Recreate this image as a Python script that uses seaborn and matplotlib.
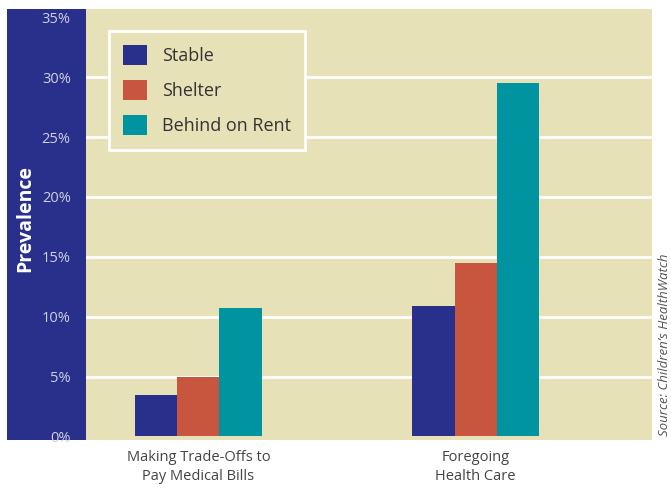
import pandas as pd
import matplotlib
matplotlib.use("Agg")
import matplotlib.pyplot as plt
from matplotlib.patches import Rectangle
import seaborn as sns

# data (percent)
categories = ["Making Trade-Offs to\nPay Medical Bills", "Foregoing\nHealth Care"]
groups = ["Stable", "Shelter", "Behind on Rent"]
stable = [3.5, 10.9]
shelter = [5.0, 14.5]
behind_on_rent = [10.7, 29.5]
y_ticks = [0, 5, 10, 15, 20, 25, 30, 35]
y_tick_labels = [f"{t}%" for t in y_ticks]

BEIGE = "#E6E1B7"
NAVY = "#28308B"
COLORS = ["#28308B", "#C8553E", "#0093A0"]

sns.set_theme(style="white")
plt.rcParams["font.family"] = ["Open Sans", "DejaVu Sans"]

df = pd.DataFrame({
    "category": categories * 3,
    "group": [g for g in groups for _ in categories],
    "value": stable + shelter + behind_on_rent,
})

fig = plt.figure(figsize=(6.71, 4.87), dpi=100)
W, H = 671, 487

# dark blue band behind the y axis labels
fig.patches.append(Rectangle((7 / W, (H - 440) / H), 79 / W, 431 / H,
                             transform=fig.transFigure, facecolor=NAVY,
                             edgecolor="none", zorder=-5))

ax = fig.add_axes([86 / W, (H - 440) / H, 566 / W, 431 / H])
ax.set_facecolor(BEIGE)

sns.barplot(data=df, x="category", y="value", hue="group", hue_order=groups,
            palette=COLORS, saturation=1, width=0.455, linewidth=0,
            ax=ax)

ax.set_xlim(-0.406, 1.637)
ax.set_ylim(-0.3, 35.7)
ax.set_yticks(y_ticks)
ax.set_yticklabels(y_tick_labels, fontsize=10.5, color="#D0D0E4")
ax.tick_params(axis="y", length=0, pad=11)
ax.tick_params(axis="x", length=0, pad=7, labelsize=10.5, labelcolor="#444444")
for lab in ax.get_xticklabels():
    lab.set_linespacing(1.35)

ax.set_axisbelow(True)
ax.yaxis.grid(True, color="white", linewidth=2)
gl = ax.get_ygridlines()
gl[0].set_visible(False)
gl[-1].set_visible(False)
for s in ax.spines.values():
    s.set_visible(False)

ax.set_xlabel("")
ax.set_ylabel("")
fig.text(25 / W, 1 - 218 / H, "Prevalence", rotation=90, color="white",
         fontsize=14, fontweight="bold", ha="center", va="center")
fig.text(664 / W, 1 - 345 / H, "Source: Children\u2019s HealthWatch", rotation=90,
         color="#555555", fontsize=9.5, style="italic", ha="center", va="center")

handles, labels = ax.get_legend_handles_labels()
leg = ax.legend(handles, labels, loc="upper left", bbox_to_anchor=(0.0406, 0.949),
                borderaxespad=0, fontsize=13, frameon=True, fancybox=False,
                facecolor=BEIGE, edgecolor="white", framealpha=1,
                handlelength=1.33, handleheight=1.33, handletextpad=0.8,
                labelspacing=0.82, borderpad=0.8)
leg.get_frame().set_linewidth(2)
for t in leg.get_texts():
    t.set_color("#333333")

fig.savefig("out.png", dpi=100, facecolor="white")
